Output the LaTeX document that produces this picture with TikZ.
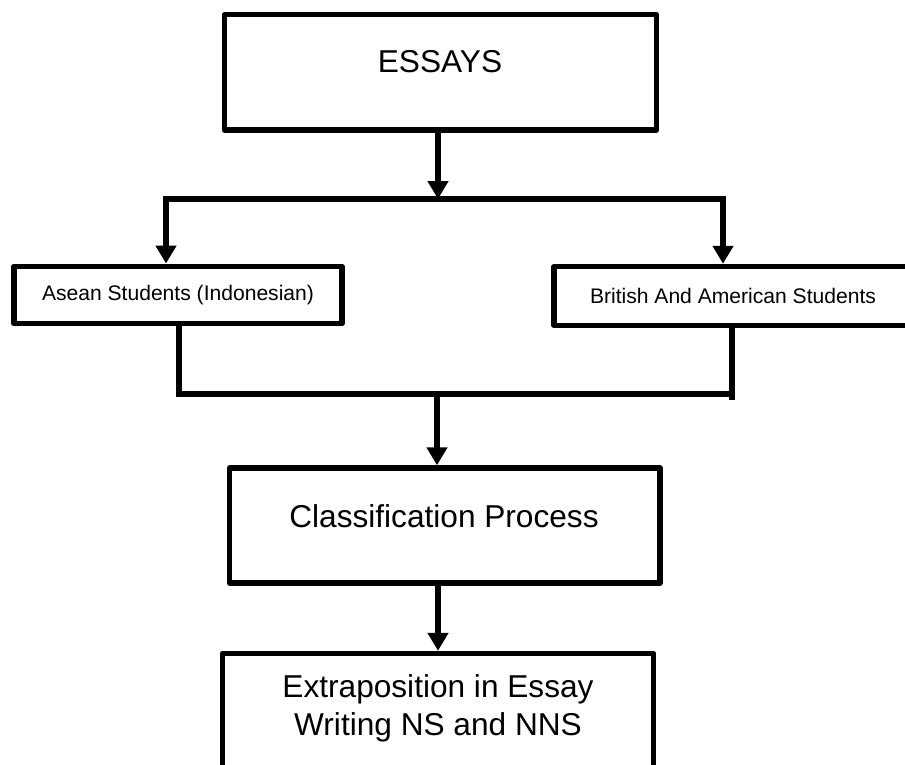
\documentclass[tikz,border=0pt]{standalone}
\usepackage{fontspec}
\setmainfont{Liberation Sans}
\usetikzlibrary{arrows.meta}

\begin{document}
\begin{tikzpicture}[x=0.02cm,y=-0.02cm,
    box/.style={draw,line width=3.1pt,line join=round,inner sep=0pt},
    conn/.style={line width=3.1pt},
    arr/.style={conn,-{Triangle[width=0.4cm,length=0.36cm]}},
    big/.style={font=\fontsize{18}{21.6}\selectfont},
    small/.style={font=\fontsize{12}{14}\selectfont}]
  \useasboundingbox (0,0) rectangle (905,764);
  \clip (0,0) rectangle (905,764);

  \node[box,minimum width=8.64cm,minimum height=2.31cm] (essays) at (440.5,72.4) {};
  \node[big] (essaystxt) at (440,61.5) {ESSAYS};
  \node[box,small,minimum width=6.56cm,minimum height=1.15cm] (asean) at (178,295) {Asean Students (Indonesian)};
  \node[box,small,minimum width=7.16cm,minimum height=1.18cm] (british) at (733,296) {British And American Students};
  \node[box,minimum width=8.61cm,minimum height=2.3cm] (classif) at (444.75,525.5) {};
  \node[big] (classiftxt) at (444,516) {Classification Process};
  \node[box,minimum width=8.62cm,minimum height=2.3cm] (extra) at (438,711) {};
  \node[big,align=center,anchor=north,inner sep=0pt] (extratxt) at (438,674) {Extraposition in Essay\\Writing NS and NNS};

  \coordinate (fork) at (438,199);
  \coordinate (forkL) at (166,199);
  \coordinate (forkR) at (723,199);
  \coordinate (join) at (437,394);
  \coordinate (joinL) at (179,394);
  \coordinate (joinR) at (732,394);
  \coordinate (joinend) at (732,400);
  \coordinate (down) at (438,620);

  \draw[arr] (fork |- essays.south) -- (fork);
  \draw[arr] (fork) -- (forkL) -- (forkL |- asean.north);
  \draw[arr] (fork) -- (forkR) -- (forkR |- british.north);
  \draw[conn] (joinL |- asean.south) -- (joinL) -- (joinR);
  \draw[conn] (joinR |- british.south) -- (joinend);
  \draw[arr] (join) -- (join |- classif.north);
  \draw[arr] (down |- classif.south) -- (down |- extra.north);
\end{tikzpicture}
\end{document}
